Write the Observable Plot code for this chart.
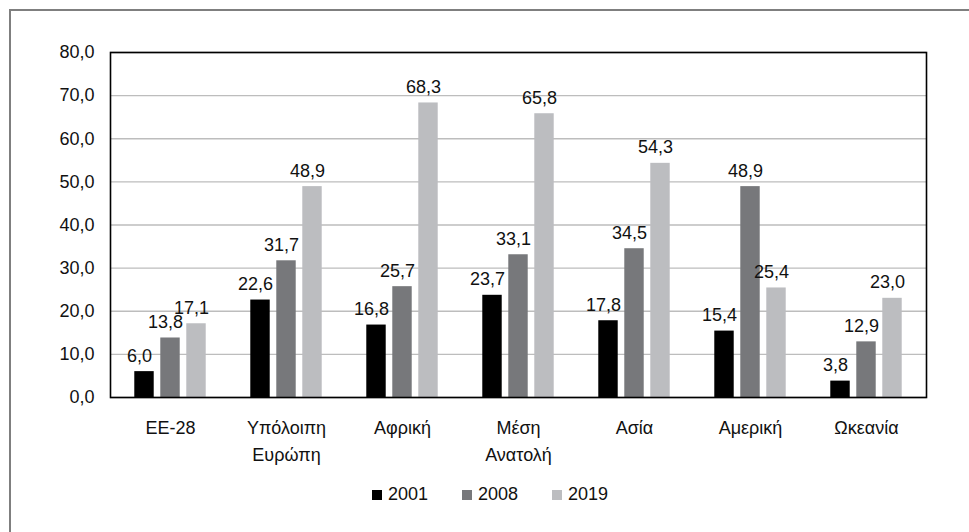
<!DOCTYPE html>
<html>
<head>
<meta charset="utf-8">
<script src="https://cdn.jsdelivr.net/npm/d3@7"></script>
<script src="https://cdn.jsdelivr.net/npm/@observablehq/plot@0.6"></script>
<style>
  html, body { margin: 0; padding: 0; overflow: hidden; background: #fff; }
  #wrap { position: relative; width: 1200px; height: 800px; font-family: "Liberation Sans", Arial, Helvetica, sans-serif; }
  #border { position: absolute; left: 9px; top: 9px; width: 1150px; height: 750px; border-left: 2px solid #7f7f7f; border-top: 2px solid #7f7f7f; box-sizing: border-box; }
  #chart { position: absolute; left: 0; top: 0; }
  #legend { position: absolute; left: 0; top: 484px; width: 980px; display: flex; justify-content: center; gap: 34px; font-size: 18px; color: #111; }
  #legend .item { display: flex; align-items: center; gap: 6px; }
  #legend .sw { width: 10px; height: 10px; display: inline-block; }
</style>
</head>
<body>
<div id="wrap">
  <div id="border"></div>
  <div id="chart"></div>
  <div id="legend"></div>
</div>
<script>
const categories = ["ΕΕ-28", "Υπόλοιπη\nΕυρώπη", "Αφρική", "Μέση\nΑνατολή", "Ασία", "Αμερική", "Ωκεανία"];
const seriesNames = ["2001", "2008", "2019"];
const values2001 = [6.0, 22.6, 16.8, 23.7, 17.8, 15.4, 3.8];
const values2008 = [13.8, 31.7, 25.7, 33.1, 34.5, 48.9, 12.9];
const values2019 = [17.1, 48.9, 68.3, 65.8, 54.3, 25.4, 23.0];
const colors = ["#000000", "#77787b", "#bcbdc0"];
const yTicks = [0, 10, 20, 30, 40, 50, 60, 70, 80];

const allValues = [values2001, values2008, values2019];
const fmt = v => v.toFixed(1).replace(".", ",");

const width = 969, height = 475;
const marginLeft = 110, marginRight = 43, marginTop = 52, marginBottom = 78;
const bw = (width - marginLeft - marginRight) / categories.length;
const barW = 20, step = 26;

const marks = [
  Plot.gridY(yTicks, {stroke: "#bdbdbd", strokeOpacity: 1, strokeWidth: 1.3}),
  Plot.axisY(yTicks, {tickSize: 0, tickPadding: 16, tickFormat: fmt, label: null, fontSize: 18}),
  Plot.axisX({tickSize: 0, tickPadding: 18, label: null, lineHeight: 1.48, fontSize: 18})
];
allValues.forEach((vals, i) => {
  const data = categories.map((c, j) => ({cat: c, value: vals[j]}));
  const off = (i - 1) * step;
  marks.push(Plot.barY(data, {
    x: "cat", y: "value", fill: colors[i],
    insetLeft: bw / 2 + off - barW / 2,
    insetRight: bw / 2 - off - barW / 2
  }));
  marks.push(Plot.text(data, {
    x: "cat", y: "value", text: d => fmt(d.value),
    dx: off - 5, dy: -10, lineAnchor: "bottom",
    fontSize: 18, fill: "#111"
  }));
});
marks.push(Plot.frame({stroke: "#000", strokeWidth: 1.6}));

const plot = Plot.plot({
  width, height, marginLeft, marginRight, marginTop, marginBottom,
  style: {fontFamily: '"Liberation Sans", Arial, Helvetica, sans-serif', fontSize: "18px", color: "#111", background: "transparent"},
  x: {domain: categories, padding: 0},
  y: {domain: [0, 80]},
  marks
});
document.getElementById("chart").appendChild(plot);

const legend = document.getElementById("legend");
seriesNames.forEach((s, i) => {
  const item = document.createElement("div");
  item.className = "item";
  const sw = document.createElement("span");
  sw.className = "sw";
  sw.style.background = colors[i];
  const t = document.createElement("span");
  t.textContent = s;
  item.appendChild(sw);
  item.appendChild(t);
  legend.appendChild(item);
});
</script>
</body>
</html>
